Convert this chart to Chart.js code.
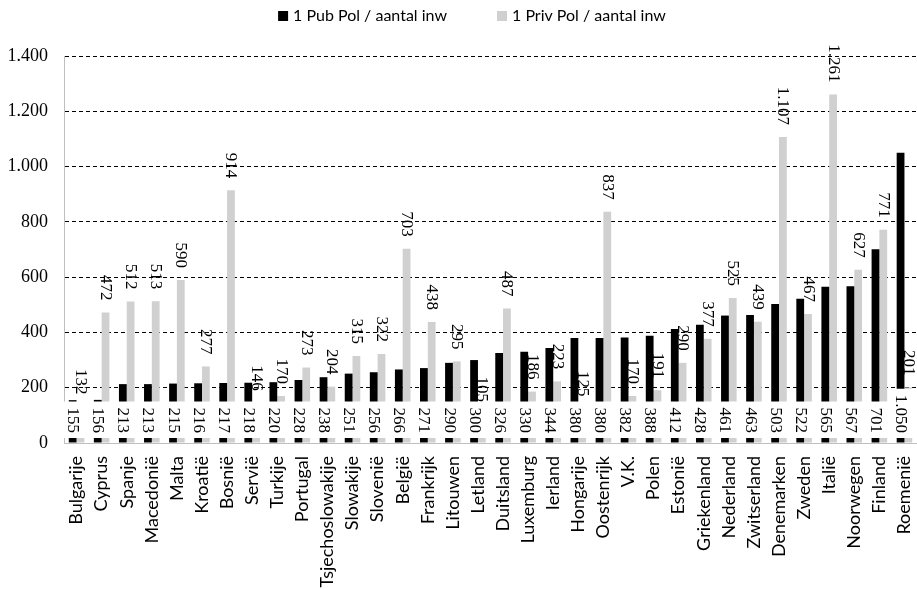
<!DOCTYPE html>
<html>
<head>
<meta charset="utf-8">
<script src="https://cdn.jsdelivr.net/npm/chart.js@4/dist/chart.umd.min.js"></script>
<style>
  html, body { margin: 0; padding: 0; background: #fff; }
  #wrap { width: 917px; height: 590px; }
</style>
</head>
<body>
<div id="wrap"><canvas id="chart" width="917" height="590"></canvas></div>
<script>
// categorieën en waarden (inwoners per politieagent)
const categories = [
  'Bulgarije', 'Cyprus', 'Spanje', 'Macedonië', 'Malta', 'Kroatië', 'Bosnië', 'Servië',
  'Turkije', 'Portugal', 'Tsjechoslowakije', 'Slowakije', 'Slovenië', 'België', 'Frankrijk',
  'Litouwen', 'Letland', 'Duitsland', 'Luxemburg', 'Ierland', 'Hongarije', 'Oostenrijk',
  'V.K.', 'Polen', 'Estonië', 'Griekenland', 'Nederland', 'Zwitserland', 'Denemarken',
  'Zweden', 'Italië', 'Noorwegen', 'Finland', 'Roemenië',
];
const pubValues = [
  155, 156, 213, 213, 215, 216, 217, 218, 220, 228, 238, 251, 256, 266, 271, 290, 300,
  326, 330, 344, 380, 380, 382, 388, 412, 428, 461, 463, 503, 522, 565, 567, 701, 1050,
];
const privValues = [
  132, 472, 512, 513, 590, 277, 914, 146, 170, 273, 204, 315, 322, 703, 438, 295, 105,
  487, 186, 223, 125, 837, 170, 191, 290, 377, 525, 439, 1107, 467, 1261, 627, 771, 201,
];
const seriesLabels = ['1 Pub Pol / aantal inw', '1 Priv Pol / aantal inw'];
const yMin = 0;
const yMax = 1400;
const yStep = 200;

const PUB_COLOR = '#000000';
const PRIV_COLOR = '#d0d0d0';
const SANS = 'Lato, "Open Sans", sans-serif';
const SERIF = '"Liberation Serif", "DejaVu Serif", serif';

const fmt = (v) => String(v).replace(/\B(?=(\d{3})+(?!\d))/g, '.');

// waardelabels: Pub onderaan (met wit vlak), Priv boven de balk
const valueLabels = {
  id: 'valueLabels',
  afterDatasetsDraw(chart) {
    const { ctx, scales: { x, y }, chartArea } = chart;
    const pubMeta = chart.getDatasetMeta(0);
    const privMeta = chart.getDatasetMeta(1);
    const y0 = y.getPixelForValue(0);
    const catW = (chartArea.right - chartArea.left) / categories.length;
    ctx.save();
    ctx.font = '17px ' + SERIF;
    ctx.fillStyle = '#000';
    ctx.textBaseline = 'middle';
    ctx.textAlign = 'right';

    pubMeta.data.forEach((bar, i) => {
      const txt = fmt(pubValues[i]);
      const w = ctx.measureText(txt).width;
      const end = y0 - 10;
      const cx = x.getPixelForValue(i);
      let left = cx - catW / 2;
      if (i === 0) left -= 2;
      ctx.fillStyle = '#fff';
      ctx.fillRect(left, end - w - 6, cx + catW / 2 - left, y0 - 5 - (end - w - 6));
      ctx.fillStyle = '#000';
      ctx.save();
      ctx.translate(bar.x, end);
      ctx.rotate(Math.PI / 2);
      ctx.fillText(txt, 0, 0);
      ctx.restore();
    });

    privMeta.data.forEach((bar, i) => {
      const txt = fmt(privValues[i]);
      ctx.save();
      ctx.translate(bar.x, bar.y - 12);
      ctx.rotate(Math.PI / 2);
      ctx.fillText(txt, 0, 0);
      ctx.restore();
    });
    ctx.restore();
  },
};

// legenda bovenaan
const topLegend = {
  id: 'topLegend',
  afterDraw(chart) {
    const { ctx } = chart;
    ctx.save();
    ctx.font = '16px ' + SANS;
    ctx.textBaseline = 'middle';
    ctx.textAlign = 'left';
    const box = 10, gap = 5, spacing = 50;
    const items = chart.data.datasets.map((ds) => ({
      label: ds.label, color: ds.backgroundColor, w: ctx.measureText(ds.label).width,
    }));
    const total = items.reduce((s, it) => s + box + gap + it.w, 0) + spacing * (items.length - 1);
    let xPos = 472 - total / 2;
    const yMid = 16;
    items.forEach((it) => {
      ctx.fillStyle = it.color;
      ctx.fillRect(xPos, yMid - 5, box, box);
      ctx.fillStyle = '#000';
      ctx.fillText(it.label, xPos + box + gap, yMid);
      xPos += box + gap + it.w + spacing;
    });
    ctx.restore();
  },
};

new Chart(document.getElementById('chart'), {
  type: 'bar',
  data: {
    labels: categories,
    datasets: [
      {
        label: seriesLabels[0],
        data: pubValues,
        backgroundColor: PUB_COLOR,
        categoryPercentage: 0.62,
        barPercentage: 1.0,
      },
      {
        label: seriesLabels[1],
        data: privValues,
        backgroundColor: PRIV_COLOR,
        categoryPercentage: 0.62,
        barPercentage: 1.0,
      },
    ],
  },
  options: {
    responsive: false,
    animation: false,
    layout: { padding: { top: 56, right: 0, left: 0, bottom: 0 } },
    plugins: {
      legend: { display: false },
      tooltip: { enabled: false },
    },
    scales: {
      x: {
        grid: { display: false, drawTicks: false },
        border: { display: true, color: '#bfbfbf', width: 1 },
        ticks: {
          autoSkip: false,
          minRotation: 90,
          maxRotation: 90,
          padding: 13,
          color: '#000',
          font: { family: SANS, size: 18 },
        },
        afterFit(s) {
          s.height = 147;
          s.paddingLeft = 0;
          s.paddingRight = 0;
        },
      },
      y: {
        min: yMin,
        max: yMax,
        ticks: {
          stepSize: yStep,
          padding: 16,
          color: '#000',
          font: { family: SERIF, size: 18 },
          callback: (v) => fmt(v),
        },
        grid: {
          drawTicks: false,
          color: (c) => (c.tick && c.tick.value === 0 ? 'rgba(0,0,0,0)' : '#000'),
          lineWidth: 1,
        },
        border: { display: true, color: '#bfbfbf', width: 1, dash: [4, 3] },
        afterFit(s) {
          s.width = 64;
          s.paddingTop = 0;
          s.paddingBottom = 0;
        },
      },
    },
  },
  plugins: [valueLabels, topLegend],
});
</script>
</body>
</html>
